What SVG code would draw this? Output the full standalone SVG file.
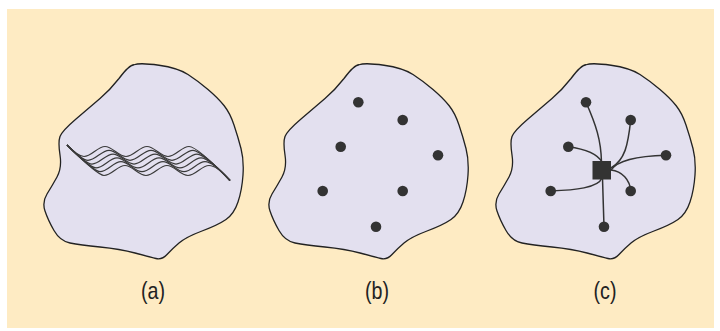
<svg xmlns="http://www.w3.org/2000/svg" xmlns:xlink="http://www.w3.org/1999/xlink" width="720" height="331" viewBox="0 0 720 331">
<style>
.bg{fill:#FEEBC3}
.blob{fill:#E3E0EF;stroke:#222;stroke-width:1.3;stroke-linejoin:round}
.wave{fill:none;stroke:#3a3a3a;stroke-width:1.2}
.dot{fill:#333}
.hub{fill:#333}
.link{fill:none;stroke:#333;stroke-width:1.5}
.lbl{font-family:"Liberation Sans",Arial,sans-serif;font-size:24px;fill:#222;text-anchor:middle}
</style>
<defs>
<path id="blob" d="M134,64.75 Q140,62.5 159,65.25 Q178,68 188,74.5 Q198,81 208,89.5 Q218,98 224,105.5 Q230,113 234,125 Q238,137 241,148.5 Q244,160 243,175 Q242,190 238,202 Q234,214 226,219.5 Q218,225 202,231 Q186,237 179,243 Q172,249 167,254.5 Q162,260 156,258.5 Q150,257 135,253 Q120,249 100,247 Q80,245 70,243 Q60,241 54,230.5 Q48,220 45,211 Q42,202 47,194 Q52,186 57,177 Q62,168 60,155 Q58,142 60,136.5 Q62,131 76,119 Q90,107 100,98.5 Q110,90 119,78.5 Q129,65 134,64.75 Z"/>
</defs>
<rect width="720" height="331" fill="#fff"/>
<rect class="bg" x="7" y="9" width="707" height="319"/>

<g id="panel-a">
<use xlink:href="#blob" class="blob"/>
<g id="waves">
<path class="wave" d="M67,145 Q78,156.5 84,156.5 C91.5,156.5 97.5,146.5 105,146.5 S118.5,156.5 126,156.5 S139.5,146.5 147,146.5 S160.5,156.5 168,156.5 S181.5,146.5 189,146.5 Q197,146.5 230,180.5"/>
<path class="wave" d="M67,145 Q82,160.3 88,160.3 C95.5,160.3 101.5,150.3 109,150.3 S122.5,160.3 130,160.3 S143.5,150.3 151,150.3 S164.5,160.3 172,160.3 S185.5,150.3 193,150.3 Q201,150.3 230,180.5"/>
<path class="wave" d="M67,145 Q86,164.1 92,164.1 C99.5,164.1 105.5,154.1 113,154.1 S126.5,164.1 134,164.1 S147.5,154.1 155,154.1 S168.5,164.1 176,164.1 S189.5,154.1 197,154.1 Q205,154.1 230,180.5"/>
<path class="wave" d="M67,145 Q90,167.9 96,167.9 C103.5,167.9 109.5,157.9 117,157.9 S130.5,167.9 138,167.9 S151.5,157.9 159,157.9 S172.5,167.9 180,167.9 S193.5,157.9 201,157.9 Q209,157.9 230,180.5"/>
<path class="wave" d="M67,145 Q94,171.7 100,171.7 C107.5,171.7 113.5,161.7 121,161.7 S134.5,171.7 142,171.7 S155.5,161.7 163,161.7 S176.5,171.7 184,171.7 S197.5,161.7 205,161.7 Q213,161.7 230,180.5"/>
<path class="wave" d="M67,145 Q98,175.5 104,175.5 C111.5,175.5 117.5,165.5 125,165.5 S138.5,175.5 146,175.5 S159.5,165.5 167,165.5 S180.5,175.5 188,175.5 S201.5,165.5 209,165.5 Q217,165.5 230,180.5"/>
</g>
<text class="lbl" transform="translate(153,299) scale(0.82,1)">(a)</text>
</g>

<g id="panel-b">
<use xlink:href="#blob" class="blob" transform="translate(225,0)"/>
<g id="b-nodes">
<circle id="b1" class="dot" cx="358.3" cy="102.3" r="5.3"/>
<circle id="b2" class="dot" cx="402.7" cy="120" r="5.3"/>
<circle id="b3" class="dot" cx="340.7" cy="146.7" r="5.3"/>
<circle id="b4" class="dot" cx="438" cy="155.3" r="5.3"/>
<circle id="b5" class="dot" cx="322.7" cy="191" r="5.3"/>
<circle id="b6" class="dot" cx="402.7" cy="191" r="5.3"/>
<circle id="b7" class="dot" cx="376" cy="226.7" r="5.3"/>
</g>
<text class="lbl" transform="translate(377,299) scale(0.82,1)">(b)</text>
</g>

<g id="panel-c">
<use xlink:href="#blob" class="blob" transform="translate(452,0)"/>
<g id="connectors">
<path class="link" d="M586,102.3 C596,125 601,140 601.5,162"/>
<path class="link" d="M630.7,120 C628,145 625,160 611,168"/>
<path class="link" d="M568.3,146.7 C585,149 597,153 602,162"/>
<path class="link" d="M666,155.3 C640,156 618,160 611,170"/>
<path class="link" d="M550.7,191 C575,190 598,188 602,178"/>
<path class="link" d="M630.7,191 C630,180 622,171 611,170"/>
<path class="link" d="M604,226.7 C603.5,210 603,195 602.5,178"/>
</g>
<g id="hub"><rect class="hub" x="592.5" y="161" width="18.5" height="18.5"/></g>
<g id="c-nodes">
<circle id="c1" class="dot" cx="586" cy="102.3" r="5.3"/>
<circle id="c2" class="dot" cx="630.7" cy="120" r="5.3"/>
<circle id="c3" class="dot" cx="568.3" cy="146.7" r="5.3"/>
<circle id="c4" class="dot" cx="666" cy="155.3" r="5.3"/>
<circle id="c5" class="dot" cx="550.7" cy="191" r="5.3"/>
<circle id="c6" class="dot" cx="630.7" cy="191" r="5.3"/>
<circle id="c7" class="dot" cx="604" cy="226.7" r="5.3"/>
</g>
<text class="lbl" transform="translate(605,299) scale(0.82,1)">(c)</text>
</g>
</svg>
